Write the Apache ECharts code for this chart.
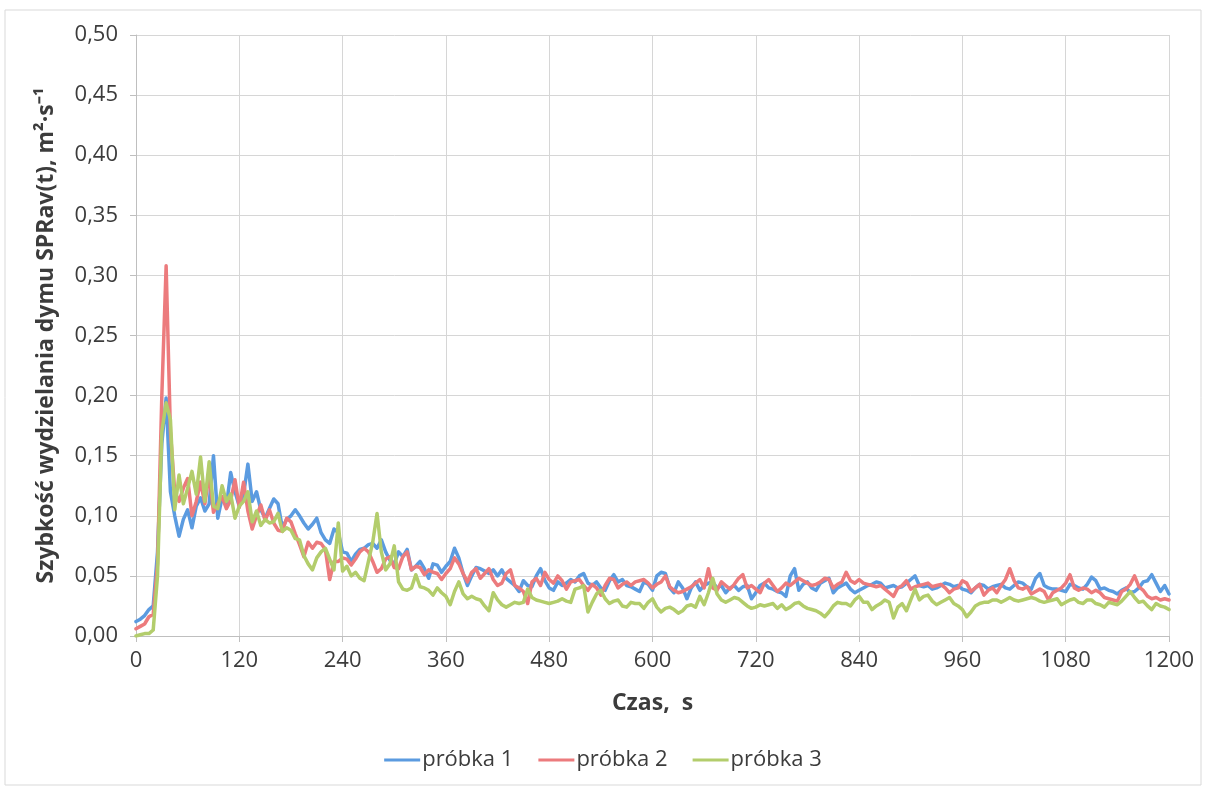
<!DOCTYPE html>
<html>
<head>
<meta charset="utf-8">
<title>SPRav(t)</title>
<script src="https://cdn.jsdelivr.net/npm/echarts@6/dist/echarts.min.js"></script>
<style>
  html, body { margin: 0; padding: 0; background: #ffffff; }
  #chart { width: 1206px; height: 788px; }
</style>
</head>
<body>
<div id="chart"></div>
<script>
// Smoke production rate SPRav(t) of three samples, one reading every 5 s (0–1200 s)
const seriesNames = ['próbka 1', 'próbka 2', 'próbka 3'];
const sampleStep = 5; // seconds between readings

const probka1 = [
  0.012,0.014,0.017,0.022,0.025,0.070,0.160,0.198,0.120,0.100,0.083,0.097,
  0.105,0.090,0.108,0.115,0.104,0.110,0.150,0.098,0.115,0.108,0.136,0.120,
  0.108,0.118,0.143,0.112,0.120,0.105,0.098,0.106,0.114,0.110,0.090,0.097,
  0.100,0.105,0.100,0.094,0.089,0.093,0.098,0.086,0.080,0.077,0.089,0.086,
  0.070,0.069,0.062,0.068,0.072,0.073,0.076,0.077,0.073,0.080,0.070,0.063,
  0.060,0.070,0.066,0.072,0.055,0.058,0.062,0.056,0.048,0.060,0.059,0.053,
  0.058,0.062,0.073,0.065,0.052,0.042,0.050,0.057,0.056,0.054,0.052,0.055,
  0.050,0.055,0.048,0.045,0.042,0.037,0.046,0.042,0.041,0.050,0.056,0.046,
  0.040,0.038,0.045,0.042,0.044,0.047,0.045,0.050,0.052,0.044,0.042,0.045,
  0.040,0.038,0.046,0.051,0.045,0.047,0.042,0.041,0.039,0.037,0.045,0.043,
  0.038,0.050,0.053,0.052,0.040,0.036,0.045,0.040,0.031,0.040,0.045,0.038,
  0.042,0.044,0.045,0.040,0.042,0.036,0.040,0.042,0.038,0.041,0.042,0.031,
  0.036,0.042,0.044,0.040,0.039,0.037,0.036,0.033,0.050,0.056,0.038,0.043,
  0.045,0.040,0.038,0.044,0.046,0.048,0.036,0.040,0.042,0.044,0.039,0.036,
  0.038,0.040,0.042,0.043,0.045,0.044,0.040,0.041,0.042,0.040,0.041,0.044,
  0.047,0.050,0.042,0.041,0.042,0.039,0.040,0.042,0.044,0.043,0.041,0.042,
  0.039,0.038,0.036,0.040,0.043,0.042,0.039,0.041,0.042,0.043,0.040,0.039,
  0.042,0.045,0.044,0.041,0.039,0.048,0.052,0.042,0.040,0.039,0.039,0.038,
  0.037,0.043,0.042,0.040,0.039,0.043,0.049,0.046,0.039,0.040,0.038,0.037,
  0.035,0.038,0.040,0.036,0.037,0.040,0.045,0.046,0.051,0.044,0.037,0.042,
  0.035
];

const probka2 = [
  0.006,0.008,0.010,0.016,0.018,0.060,0.200,0.308,0.170,0.120,0.112,0.123,
  0.131,0.100,0.112,0.128,0.110,0.135,0.103,0.110,0.116,0.106,0.113,0.130,
  0.107,0.128,0.104,0.089,0.100,0.109,0.096,0.105,0.094,0.088,0.087,0.098,
  0.095,0.085,0.076,0.066,0.078,0.073,0.078,0.077,0.072,0.047,0.062,0.062,
  0.065,0.064,0.059,0.064,0.070,0.073,0.070,0.062,0.053,0.056,0.064,0.066,
  0.057,0.056,0.066,0.070,0.055,0.058,0.057,0.051,0.055,0.053,0.052,0.047,
  0.052,0.056,0.065,0.060,0.052,0.045,0.053,0.056,0.048,0.052,0.056,0.047,
  0.042,0.044,0.052,0.055,0.042,0.040,0.037,0.027,0.045,0.048,0.042,0.053,
  0.047,0.044,0.050,0.046,0.039,0.045,0.046,0.047,0.042,0.038,0.043,0.040,
  0.034,0.042,0.048,0.047,0.040,0.043,0.045,0.042,0.045,0.046,0.047,0.044,
  0.040,0.043,0.045,0.050,0.041,0.038,0.036,0.037,0.039,0.041,0.044,0.047,
  0.040,0.056,0.040,0.038,0.045,0.042,0.039,0.043,0.048,0.051,0.040,0.042,
  0.039,0.036,0.044,0.047,0.042,0.037,0.040,0.044,0.042,0.045,0.048,0.046,
  0.044,0.042,0.043,0.045,0.048,0.047,0.040,0.043,0.045,0.053,0.046,0.044,
  0.047,0.044,0.043,0.042,0.041,0.042,0.039,0.036,0.033,0.040,0.042,0.046,
  0.039,0.041,0.042,0.043,0.044,0.041,0.042,0.043,0.040,0.036,0.039,0.040,
  0.046,0.044,0.037,0.040,0.043,0.034,0.038,0.040,0.036,0.042,0.047,0.056,
  0.046,0.040,0.039,0.041,0.035,0.037,0.039,0.037,0.030,0.036,0.038,0.040,
  0.044,0.051,0.040,0.038,0.040,0.039,0.036,0.038,0.036,0.032,0.031,0.030,
  0.029,0.037,0.039,0.043,0.050,0.041,0.038,0.033,0.031,0.032,0.030,0.031,
  0.030
];

const probka3 = [
  0.000,0.001,0.002,0.002,0.005,0.050,0.170,0.194,0.180,0.105,0.134,0.110,
  0.123,0.137,0.118,0.149,0.112,0.145,0.108,0.106,0.125,0.112,0.118,0.098,
  0.108,0.112,0.120,0.095,0.104,0.092,0.097,0.094,0.095,0.102,0.087,0.090,
  0.088,0.081,0.080,0.067,0.060,0.055,0.065,0.070,0.073,0.064,0.055,0.094,
  0.054,0.058,0.050,0.053,0.048,0.046,0.062,0.078,0.102,0.070,0.055,0.060,
  0.075,0.045,0.039,0.038,0.040,0.051,0.041,0.040,0.038,0.034,0.040,0.036,
  0.033,0.026,0.037,0.045,0.035,0.031,0.033,0.031,0.030,0.025,0.021,0.036,
  0.030,0.026,0.024,0.026,0.028,0.027,0.028,0.039,0.032,0.030,0.029,0.028,
  0.027,0.028,0.029,0.031,0.029,0.028,0.039,0.040,0.042,0.020,0.028,0.035,
  0.038,0.031,0.027,0.029,0.030,0.025,0.024,0.028,0.027,0.027,0.023,0.028,
  0.031,0.024,0.020,0.023,0.024,0.022,0.019,0.021,0.025,0.026,0.024,0.033,
  0.026,0.036,0.048,0.035,0.030,0.028,0.030,0.032,0.031,0.028,0.025,0.023,
  0.024,0.026,0.025,0.026,0.027,0.023,0.026,0.022,0.024,0.027,0.028,0.025,
  0.023,0.022,0.021,0.019,0.016,0.020,0.025,0.028,0.027,0.027,0.025,0.030,
  0.033,0.028,0.028,0.022,0.025,0.027,0.030,0.028,0.015,0.024,0.027,0.021,
  0.030,0.039,0.030,0.033,0.034,0.029,0.026,0.028,0.030,0.032,0.027,0.025,
  0.022,0.016,0.020,0.025,0.027,0.028,0.028,0.030,0.030,0.028,0.030,0.032,
  0.030,0.029,0.030,0.031,0.032,0.031,0.029,0.028,0.029,0.030,0.031,0.026,
  0.028,0.030,0.031,0.028,0.027,0.030,0.030,0.027,0.026,0.024,0.028,0.027,
  0.026,0.029,0.033,0.037,0.032,0.028,0.029,0.025,0.022,0.027,0.025,0.024,
  0.022
];

const lineColors = ['#5b9be0', '#ec7b7d', '#b3cd6c'];
const xTitle = 'Czas,  s';
const yTitle = 'Szybkość wydzielania dymu SPRav(t), m²·s⁻¹';

const sampleValues = [probka1, probka2, probka3];
const toPairs = vals => vals.map((v, i) => [i * sampleStep, v]);

const textColor = '#3c3c3c';
const gridColor = '#d6d6d6';
const axisColor = '#bfbfbf';
const fontFamily = '"Open Sans", sans-serif';

const chart = echarts.init(document.getElementById('chart'), null, { renderer: 'canvas' });

chart.setOption({
  animation: false,
  backgroundColor: '#ffffff',
  textStyle: { fontFamily },
  graphic: [{
    type: 'rect',
    shape: { x: 5, y: 10, width: 1196, height: 775 },
    style: { fill: 'none', stroke: '#d9d9d9', lineWidth: 1 },
    silent: true
  }],
  grid: { left: 136, right: 37, top: 35, bottom: 152, containLabel: false },
  legend: {
    bottom: 12,
    left: 'center',
    icon: 'rect',
    itemWidth: 36,
    itemHeight: 3,
    itemGap: 25,
    textStyle: { color: textColor, fontSize: 22, fontFamily, padding: [0, 0, 0, -3] },
    data: seriesNames
  },
  xAxis: {
    type: 'value',
    min: 0,
    max: 1200,
    interval: 120,
    name: xTitle,
    nameLocation: 'middle',
    nameGap: 56,
    nameTextStyle: { color: textColor, fontSize: 23, fontWeight: 'bold' },
    axisLine: { show: true, lineStyle: { color: axisColor, width: 1 } },
    axisTick: { show: true, length: 6, lineStyle: { color: axisColor } },
    axisLabel: { color: textColor, fontSize: 22, margin: 14, formatter: v => String(v) },
    splitLine: { show: true, lineStyle: { color: gridColor, width: 1 } }
  },
  yAxis: {
    type: 'value',
    min: 0,
    max: 0.5,
    interval: 0.05,
    name: yTitle,
    nameLocation: 'middle',
    nameGap: 78,
    nameRotate: 90,
    nameTextStyle: { color: textColor, fontSize: 23, fontWeight: 'bold' },
    axisLine: { show: true, lineStyle: { color: axisColor, width: 1 } },
    axisTick: { show: true, length: 6, lineStyle: { color: axisColor } },
    axisLabel: {
      color: textColor,
      fontSize: 22,
      margin: 18,
      formatter: v => v.toFixed(2).replace('.', ',')
    },
    splitLine: { show: true, lineStyle: { color: gridColor, width: 1 } }
  },
  series: seriesNames.map((name, k) => ({
    name,
    type: 'line',
    data: toPairs(sampleValues[k]),
    showSymbol: false,
    symbol: 'none',
    smooth: false,
    color: lineColors[k],
    lineStyle: { color: lineColors[k], width: 3.5, cap: 'round', join: 'round' },
    z: 2 + k
  }))
});
</script>
</body>
</html>
